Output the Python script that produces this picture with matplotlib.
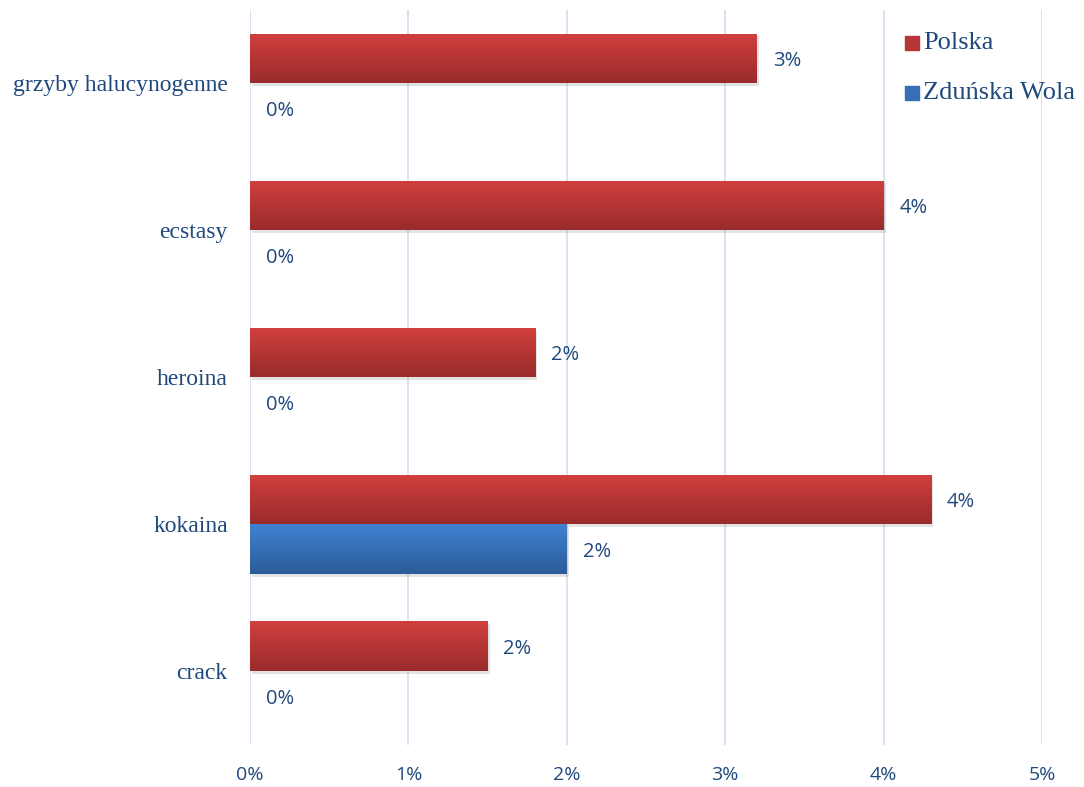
import matplotlib.pyplot as plt
import matplotlib.patheffects as pe
import numpy as np

# dane (udział w %)
categories = ["grzyby halucynogenne", "ecstasy", "heroina", "kokaina", "crack"]
polska = [3.2, 4.0, 1.8, 4.3, 1.5]
zdunska = [0.0, 0.0, 0.0, 2.0, 0.0]
series_names = ["Polska", "Zduńska Wola"]
x_ticks = [0, 1, 2, 3, 4, 5]

text_color = "#1F497D"
red_top, red_bot = np.array([0.82, 0.25, 0.24]), np.array([0.60, 0.17, 0.17])
blue_top, blue_bot = np.array([0.25, 0.51, 0.82]), np.array([0.17, 0.36, 0.60])


def gradient_fill(ax, patch, top, bot):
    x0, y0 = patch.get_x(), patch.get_y()
    w, h = patch.get_width(), patch.get_height()
    if w <= 0:
        return
    t = np.linspace(0, 1, 64)[:, None, None]
    img = top * (1 - t) + bot * t
    im = ax.imshow(img, extent=(x0, x0 + w, y0 + h, y0), origin="upper",
                   aspect="auto", zorder=3)
    im.set_clip_path(patch)


fig = plt.figure(figsize=(10.84, 7.87), dpi=100)
ax = fig.add_axes([0.2306, 0.0534, 0.7307, 0.9339])

y = np.arange(len(categories))
h = 0.34
shadow = [pe.SimplePatchShadow(offset=(1.5, -2), shadow_rgbFace="#909090", alpha=0.25), pe.Normal()]

bars_p = ax.barh(y - h / 2, polska, height=h, color=red_top, zorder=2)
bars_z = ax.barh(y + h / 2, zdunska, height=h, color=blue_top, zorder=2)

for b in bars_p:
    b.set_path_effects(shadow)
    gradient_fill(ax, b, red_top, red_bot)
for b in bars_z:
    b.set_path_effects(shadow)
    gradient_fill(ax, b, blue_top, blue_bot)

for yy, v in zip(y - h / 2, polska):
    ax.text(v + 0.1, yy + 0.02, f"{v:.0f}%", va="center", ha="left",
            fontsize=14.5, color=text_color, family="Open Sans")
for yy, v in zip(y + h / 2, zdunska):
    ax.text(v + 0.1, yy + 0.02, f"{v:.0f}%", va="center", ha="left",
            fontsize=14.5, color=text_color, family="Open Sans")

ax.set_xlim(0, 5)
ax.set_ylim(len(categories) - 0.5, -0.5)
ax.set_xticks(x_ticks)
ax.set_xticklabels([f"{t}%" for t in x_ticks], fontsize=14, color=text_color, family="Open Sans")
ax.set_yticks(y)
ax.set_yticklabels(categories, fontsize=17, color=text_color, family="Liberation Serif")
ax.tick_params(length=0)
ax.tick_params(axis="x", pad=15)
ax.tick_params(axis="y", pad=16)
ax.xaxis.grid(True, color="#D6E1F0", linewidth=1.3, zorder=0)
ax.set_axisbelow(True)
for s in ax.spines.values():
    s.set_visible(False)

# legenda
for i, (name, top, bot) in enumerate(zip(series_names, [red_top, blue_top], [red_bot, blue_bot])):
    yf = 1 - (43 + 50 * i) / 787
    fig.patches.append(plt.Rectangle((905 / 1084, yf - 7 / 787), 14 / 1084, 14 / 787,
                                     transform=fig.transFigure, color=(top + bot) / 2))
    fig.text(923 / 1084, yf, name, fontsize=19, color=text_color,
             family="Liberation Serif", va="center", ha="left")

fig.savefig("out.png", dpi=100)
